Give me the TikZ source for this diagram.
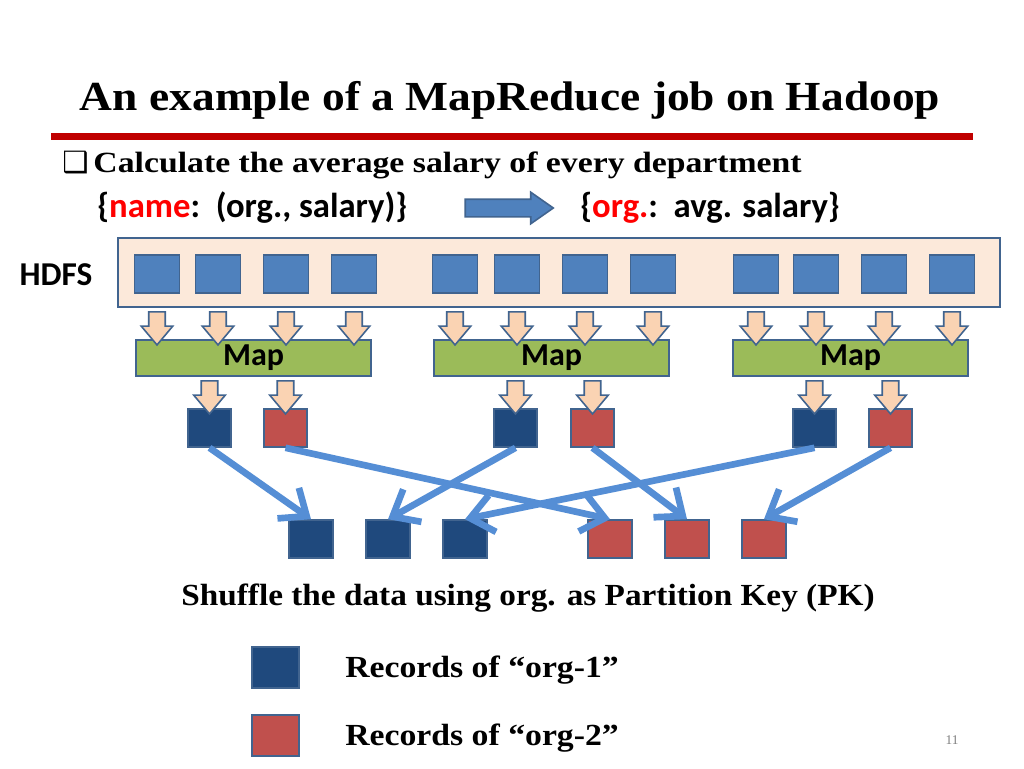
\documentclass[tikz,border=0pt]{standalone}
\usepackage{fontspec}
\setmainfont{Liberation Serif}
\newfontfamily\calib{Carlito}
\newfontfamily\dejavu{DejaVu Sans}
\usepackage{tikz}
\usetikzlibrary{arrows.meta,shapes.arrows}
\definecolor{rulered}{HTML}{C00000}
\definecolor{keyred}{HTML}{FF0000}
\definecolor{hdfsbg}{HTML}{FCE9DA}
\definecolor{edgeblue}{HTML}{41648F}
\definecolor{splitblue}{HTML}{4F81BD}
\definecolor{feedpeach}{HTML}{FAD3B3}
\definecolor{mapgreen}{HTML}{9BBB59}
\definecolor{orgone}{HTML}{1F497D}
\definecolor{orgtwo}{HTML}{C0504D}
\definecolor{shuffleblue}{HTML}{558ED5}

\tikzset{
  split/.style = {draw=edgeblue, fill=splitblue, line width=1.2pt, minimum width=33.75pt, minimum height=28.5pt, inner sep=0pt},
  rec/.style = {draw=edgeblue, line width=1.2pt, minimum width=32.5pt, minimum height=28.5pt, inner sep=0pt},
  feed/.style = {single arrow, draw=edgeblue, fill=feedpeach, line width=1.2pt, rotate=-90, minimum height=24.75pt, inner sep=5.6pt, single arrow head extend=5.6pt, single arrow tip angle=80},
  mapbox/.style = {draw=edgeblue, fill=mapgreen, line width=1.2pt, minimum width=176pt, minimum height=27pt, font=\calib\bfseries\fontsize{24}{28}\selectfont, inner sep=0pt},
  shuffle/.style = {draw=shuffleblue, line width=5pt, -{Straight Barb[length=17pt, width=28pt]}},
  serifbold/.style = {font=\bfseries\fontsize{23}{27}\selectfont, inner sep=0pt},
  sansbold/.style = {font=\calib\bfseries\fontsize{26}{30}\selectfont, inner sep=0pt}
}

\begin{document}
\begin{tikzpicture}[x=0.75pt, y=-0.75pt]
    \useasboundingbox[fill=white] (0,0) rectangle (1024,768);

    \node[anchor=base, inner sep=0pt, font=\bfseries\fontsize{31}{36}\selectfont] (title) at (510,110) {\scalebox{1.1}[1]{An example of a MapReduce job on Hadoop}};
    \draw[rulered, line width=5.2pt] (51,136.5) -- (973,136.5);

    \node[serifbold, font=\bfseries\fontsize{22}{26}\selectfont, anchor=base west] (task) at (62,172) {{\dejavu ❑}\,\scalebox{1.15}[1]{Calculate the average salary of every department}};
    \node[sansbold, anchor=base west] (input) at (97,217) {\{\textcolor{keyred}{name}:\ \ (org., salary)\}};
    \node[single arrow, draw=edgeblue, fill=splitblue, line width=1.2pt, minimum height=66pt, inner sep=6pt,
      single arrow head extend=5.25pt, single arrow tip angle=70] (turn) at (503,208) {};
    \node[sansbold, anchor=base west] (output) at (580,217) {\{\textcolor{keyred}{org.}:\ \ avg. salary\}};

    % HDFS with its splits
    \node[draw=edgeblue, fill=hdfsbg, line width=1.2pt, minimum width=661.5pt, minimum height=51.75pt] (hdfs) at (559,272.5) {};
    \node[sansbold, font=\calib\bfseries\fontsize{25}{30}\selectfont, anchor=base] (hdfslabel) at (56,285) {HDFS};
    \foreach \g/\xa/\xb/\xc/\xd/\xm in {1/157/218/286/354/253.5, 2/455/517/585/653/551.5, 3/756/816/884/952/850.5} {
      \node[mapbox] (map\g) at (\xm,358) {Map};
      \foreach \x [count=\k] in {\xa,\xb,\xc,\xd} {
        \node[split] (h\g\k) at (\x,274) {};
        \path (h\g\k |- hdfs.south) -- (h\g\k |- map\g.north) node[midway, feed] {};
      }
    }

    % records after map
    \foreach \g/\xb/\xr in {1/209.5/285.5, 2/515.5/592.5, 3/814.5/890.5} {
      \node[rec, fill=orgone] (b\g) at (\xb,428) {};
      \node[rec, fill=orgtwo] (r\g) at (\xr,428) {};
      \path (b\g |- map\g.south) -- (b\g.north) node[midway, feed] {};
      \path (r\g |- map\g.south) -- (r\g.north) node[midway, feed] {};
    }

    % records after shuffle
    \foreach \k/\xb/\xr in {1/311/610, 2/388/687, 3/465/764} {
      \node[rec, fill=orgone, minimum width=33pt] (p\k) at (\xb,539) {};
      \node[rec, fill=orgtwo, minimum width=33pt] (q\k) at (\xr,539) {};
    }
    \foreach \k in {1,2,3} {
      \draw[shuffle] (b\k.south) -- (p\k.north);
      \draw[shuffle] (r\k.south) -- (q\k.north);
    }

    \node[serifbold, anchor=base] (note) at (528,605) {\scalebox{1.085}[1]{Shuffle the data using org. as Partition Key (PK)}};

    % legend
    \node[rec, fill=orgone, minimum width=35.25pt, minimum height=30.75pt] (key1) at (275.5,667.5) {};
    \node[rec, fill=orgtwo, minimum width=35.25pt, minimum height=30.75pt] (key2) at (275.5,735.5) {};
    \node[serifbold, anchor=base west] (keytext1) at (345,677) {\scalebox{1.1}[1]{Records of “org-1”}};
    \node[serifbold, anchor=base west] (keytext2) at (345,745) {\scalebox{1.1}[1]{Records of “org-2”}};
    \node[font=\fontsize{10}{12}\selectfont, text=gray] (pagenum) at (952,740) {11};
\end{tikzpicture}
\end{document}
